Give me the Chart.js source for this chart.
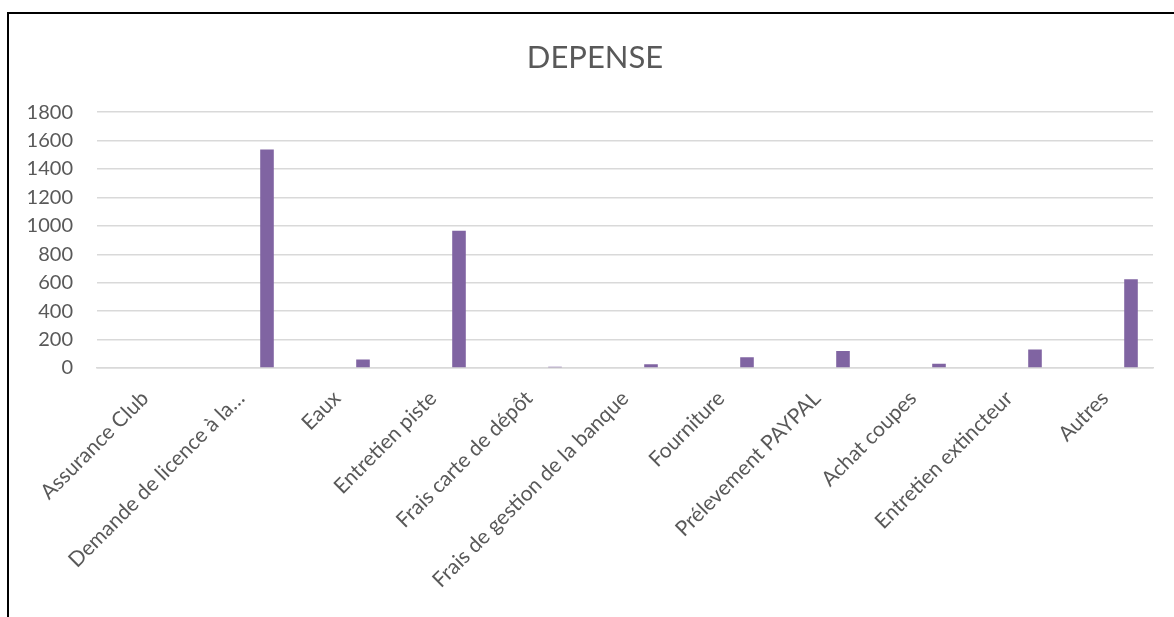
<!DOCTYPE html>
<html>
<head>
<meta charset="utf-8">
<script src="https://cdn.jsdelivr.net/npm/chart.js@4.4.1/dist/chart.umd.min.js"></script>
<style>
  html, body { margin: 0; padding: 0; background: #fff; }
  #wrap { position: relative; width: 1174px; height: 617px; overflow: hidden; }
  #frame { position: absolute; left: 7px; top: 12px; right: -4px; bottom: -4px;
           border-top: 2px solid #000; border-left: 2px solid #000; pointer-events: none; }
  canvas { position: absolute; left: 0; top: 0; }
</style>
</head>
<body>
<div id="wrap">
  <canvas id="c" width="1174" height="617"></canvas>
  <div id="frame"></div>
</div>
<script>
const chartTitle = "DEPENSE";
const categories = [
  "Assurance Club",
  "Demande de licence à la…",
  "Eaux",
  "Entretien piste",
  "Frais carte de dépôt",
  "Frais de gestion de la banque",
  "Fourniture",
  "Prélevement PAYPAL",
  "Achat coupes",
  "Entretien extincteur",
  "Autres"
];
// Two empty series in the original workbook (they reserve space in each group)
const emptySeriesA = [null, null, null, null, null, null, null, null, null, null, null];
const emptySeriesB = [null, null, null, null, null, null, null, null, null, null, null];
const depenseValues = [null, 1537, 60, 965, 8, 26, 75, 120, 30, 131, 624];
const yMin = 0;
const yMax = 1800;
const yStep = 200;

const FONT = "Lato, 'Open Sans', sans-serif";
const TXT = "#595959";

new Chart(document.getElementById("c"), {
  type: "bar",
  data: {
    labels: categories,
    datasets: [
      { label: "A", data: emptySeriesA, backgroundColor: "#4F81BD" },
      { label: "B", data: emptySeriesB, backgroundColor: "#C0504D" },
      { label: "DEPENSE", data: depenseValues, backgroundColor: "#8064A2", borderWidth: 0 }
    ]
  },
  options: {
    responsive: false,
    animation: false,
    devicePixelRatio: 1,
    layout: { padding: { left: 37, right: 21, top: 0, bottom: 0 } },
    datasets: { bar: { categoryPercentage: 0.8125, barPercentage: 0.523 } },
    plugins: {
      legend: { display: false },
      tooltip: { enabled: false },
      title: {
        display: true,
        text: chartTitle,
        color: TXT,
        font: { family: FONT, size: 31, weight: "normal", lineHeight: 1.2 },
        padding: { top: 39, bottom: 36 }
      }
    },
    scales: {
      x: {
        grid: { display: false, drawTicks: false },
        border: { display: true, color: "#D9D9D9", width: 1.5 },
        ticks: {
          color: TXT,
          font: { family: FONT, size: 21 },
          maxRotation: 45,
          minRotation: 45,
          autoSkip: false,
          padding: 18
        },
        afterFit: (s) => { s.height = 249; }
      },
      y: {
        min: yMin,
        max: yMax,
        grid: { color: "#D9D9D9", lineWidth: 1.5, drawTicks: false },
        border: { display: false },
        ticks: {
          stepSize: yStep,
          color: TXT,
          font: { family: FONT, size: 20 },
          padding: 24,
          callback: (v) => String(v)
        },
        afterFit: (s) => {
          s.width = 60;
          s._computeLabelArea = () => undefined;
        }
      }
    }
  }
});
</script>
</body>
</html>
